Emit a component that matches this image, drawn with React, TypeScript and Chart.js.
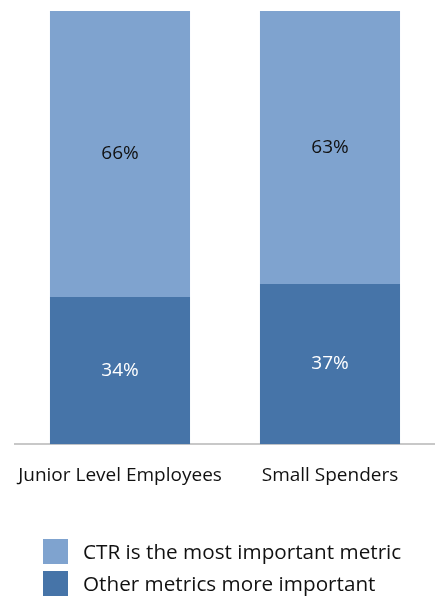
import React, { useEffect, useRef } from "react";
import { Chart, registerables } from "chart.js";
Chart.register(...registerables);

const categories = ["Junior Level Employees", "Small Spenders"];
const otherMetrics = [34, 37];
const ctrMost = [66, 63];
const seriesNames = ["CTR is the most important metric", "Other metrics more important"];
const colors = { light: "#7fa3cf", dark: "#4674a8" };
const FONT = "'Open Sans', sans-serif";

const labelPlugin = {
  id: "segLabels",
  afterDatasetsDraw(chart: any) {
    const ctx = chart.ctx;
    ctx.save();
    ctx.font = `19px ${FONT}`;
    ctx.textAlign = "center";
    ctx.textBaseline = "middle";
    chart.data.datasets.forEach((ds: any, di: number) => {
      const meta = chart.getDatasetMeta(di);
      meta.data.forEach((el: any, i: number) => {
        const top = Math.min(el.y, el.base);
        const bot = Math.max(el.y, el.base);
        ctx.fillStyle = ds.labelColor;
        ctx.fillText(ds.data[i] + "%", el.x, (top + bot) / 2);
      });
    });
    ctx.restore();
  },
};

export default function App() {
  const ref = useRef<HTMLCanvasElement>(null);
  useEffect(() => {
    const chart = new Chart(ref.current!, {
      type: "bar",
      data: {
        labels: categories,
        datasets: [
          { label: seriesNames[1], data: otherMetrics, backgroundColor: colors.dark, labelColor: "#ffffff" } as any,
          { label: seriesNames[0], data: ctrMost, backgroundColor: colors.light, labelColor: "#111111" } as any,
        ],
      },
      options: {
        animation: false,
        responsive: false,
        maintainAspectRatio: false,
        layout: { padding: { left: 15, right: 0, top: 11, bottom: 0 } },
        plugins: { legend: { display: false }, tooltip: { enabled: false } },
        datasets: { bar: { barPercentage: 0.667, categoryPercentage: 1 } },
        scales: {
          x: {
            stacked: true,
            grid: { display: false },
            border: { display: true, color: "#c8c8c8", width: 2 },
            ticks: { color: "#111111", font: { family: FONT, size: 19 }, padding: 12, maxRotation: 0 },
          },
          y: { stacked: true, display: false, min: 0, max: 100 },
        },
      },
      plugins: [labelPlugin],
    });
    return () => chart.destroy();
  }, []);

  const box = (c: string) => ({ width: 25, height: 25, background: c, display: "inline-block", marginRight: 15, flex: "none" });
  return (
    <div style={{ position: "fixed", left: 0, top: 0, width: 435, height: 597, background: "#fff" }}>
      <canvas ref={ref} width={435} height={499} style={{ display: "block" }} />
      <div style={{ position: "absolute", left: 43, top: 535, fontFamily: FONT, fontSize: 20.7, color: "#111" }}>
        <div style={{ display: "flex", alignItems: "center", height: 32 }}>
          <span style={box(colors.light)} />{seriesNames[0]}
        </div>
        <div style={{ display: "flex", alignItems: "center", height: 32 }}>
          <span style={box(colors.dark)} />{seriesNames[1]}
        </div>
      </div>
    </div>
  );
}
